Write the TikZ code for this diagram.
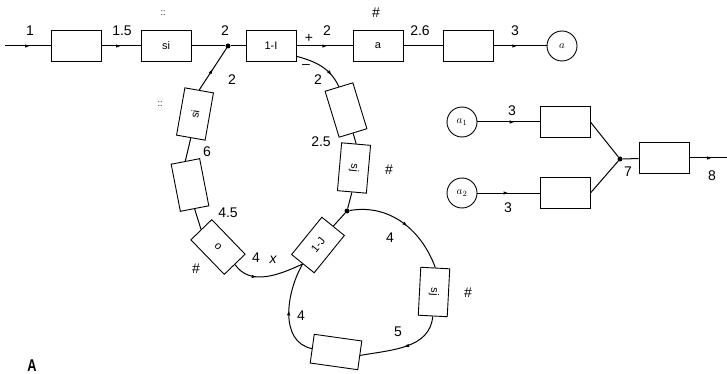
\documentclass[tikz,border=0pt]{standalone}
\usepackage{fontspec}
\setmainfont{Liberation Sans}
\usepackage{graphicx}
\usetikzlibrary{arrows.meta,decorations.markings,calc}
\begin{document}
\begin{tikzpicture}[x=1pt,y=-1pt,
  box/.style={draw,line width=0.9pt,minimum width=50pt,minimum height=31pt,inner sep=0pt,font=\fontsize{11}{11}\selectfont},
  rbox/.style={box,minimum width=48pt,minimum height=29pt},
  circ/.style={draw,circle,line width=0.9pt,minimum size=30pt,inner sep=0pt,font=\fontsize{11}{11}\selectfont},
  ln/.style={line width=1pt},
  lab/.style={font=\fontsize{14}{14}\selectfont,inner sep=1pt},
  small/.style={font=\fontsize{9}{9}\selectfont,inner sep=1pt},
  dot/.style={circle,fill,inner sep=0pt,minimum size=5pt},
  marr/.style={postaction={decorate},decoration={markings,mark=at position #1 with {\arrow{Latex[length=5pt,width=3.5pt]}}}},
]
\useasboundingbox (0,0) rectangle (727,374);

% main line
\coordinate (s0) at (5,46);
\node[box] (b1) at (76,46) {};
\node[box] (si) at (166,46) {si};
\node[dot] (j1) at (228,46) {};
\node[box] (I) at (271,46) {1-I};
\node[box] (a) at (378,46) {a};
\node[box] (b2) at (468,46) {};
\node[circ] (ca) at (562,46) {$a$};
\draw[ln,marr=0.55] (s0) -- (b1);
\draw[ln,marr=0.5] (b1) -- (si);
\draw[ln] (si) -- (j1) -- (I);
\draw[ln,marr=0.55] (I) -- (a);
\draw[ln] (a) -- (b2);
\draw[ln,marr=0.45] (b2) -- (ca);
\node[lab] (l1) at (30,31) {1};
\node[lab] (l15) at (122,31) {1.5};
\node[small] (c1) at (163,13) {::};
\node[lab] (l2a) at (225,31) {2};
\node[lab] (lp) at (309,38) {+};
\node[lab] (l2b) at (327,31) {2};
\node[lab] (h1) at (376,13) {\#};
\node[lab] (l26) at (420,31) {2.6};
\node[lab] (l3a) at (515,31) {3};

% upper ring, left side
\node[rbox,rotate=80] (L1) at (195,114) {si};
\node[rbox,rotate=101] (L2) at (190,185) {};
\node[rbox,rotate=-46] (L3) at (218,247) {o};
\draw[ln,marr=0.5] (L1.east) -- (j1);
\draw[ln] (L1.west) -- (L2.east);
\draw[ln] (L2.west) -- (L3.west);
\node[lab] (l2c) at (232,80) {2};
\node[small] (c2) at (160,104) {::};
\node[lab] (l6) at (207,152) {6};
\node[lab] (l45) at (228,213) {4.5};
\node[lab] (h2) at (196,269) {\#};
\node[lab] (l4a) at (256,258) {4};
\node[lab] (lx) at (273,260) {\itshape x};

% junction box 1-J
\node[rbox,rotate=51] (J) at (318,245) {1-J};
\draw[ln,marr=0.35] (L3.east) to[out=-55,in=205] (J.west);

% upper ring, right side
\node[rbox,rotate=107] (R1) at (346,110) {};
\node[rbox,rotate=85] (R2) at (354,168) {\rotatebox{180}{sj}};
\draw[ln,marr=0.75] (I.-22) to[out=-15,in=115] (R1.east);
\draw[ln] (R1.west) -- (R2.east);
\node[dot] (j2) at (347,211) {};
\draw[ln] (R2.west) -- (j2) -- (J.east);
\node[lab] (lm) at (306,66) {–};
\node[lab] (l2d) at (318,80) {2};
\node[lab] (l25) at (321,142) {2.5};
\node[lab] (h3) at (389,170) {\#};

% lower ring
\node[rbox,rotate=87] (S) at (434,292) {\rotatebox{180}{sj}};
\node[rbox,rotate=-8] (B) at (336,352) {};
\draw[ln,marr=0.55] (j2) to[out=10,in=110] (S.east);
\draw[ln,marr=0.5] (S.west) to[out=-95,in=10] (B.east);
\draw[ln,marr=0.5] (B.west) to[out=168,in=-120] (J.west);
\node[lab] (l4b) at (390,238) {4};
\node[lab] (h4) at (468,293) {\#};
\node[lab] (l5) at (398,332) {5};
\node[lab] (l4c) at (301,316) {4};

% right cluster
\node[circ] (a1) at (462,122) {$a_1$};
\node[circ] (a2) at (462,193) {$a_2$};
\node[box] (P1) at (565,122) {};
\node[box] (P2) at (565,193) {};
\node[dot] (j3) at (620,159) {};
\node[box] (P3) at (664,158) {};
\coordinate (e8) at (727,158);
\draw[ln,marr=0.6] (a1) -- (P1);
\draw[ln,marr=0.5] (a2) -- (P2);
\draw[ln] (P1.east) -- (j3);
\draw[ln] (P2.east) -- (j3);
\draw[ln] (j3) -- (P3);
\draw[ln,marr=0.6] (P3) -- (e8);
\node[lab] (l3b) at (512,111) {3};
\node[lab] (l3c) at (508,208) {3};
\node[lab] (l7) at (628,172) {7};
\node[lab] (l8) at (712,176) {8};

\node[anchor=south,inner sep=0pt,font=\fontsize{17}{17}\selectfont\bfseries] (lA) at (32,372) {\scalebox{0.75}[1]{A}};
\end{tikzpicture}
\end{document}
